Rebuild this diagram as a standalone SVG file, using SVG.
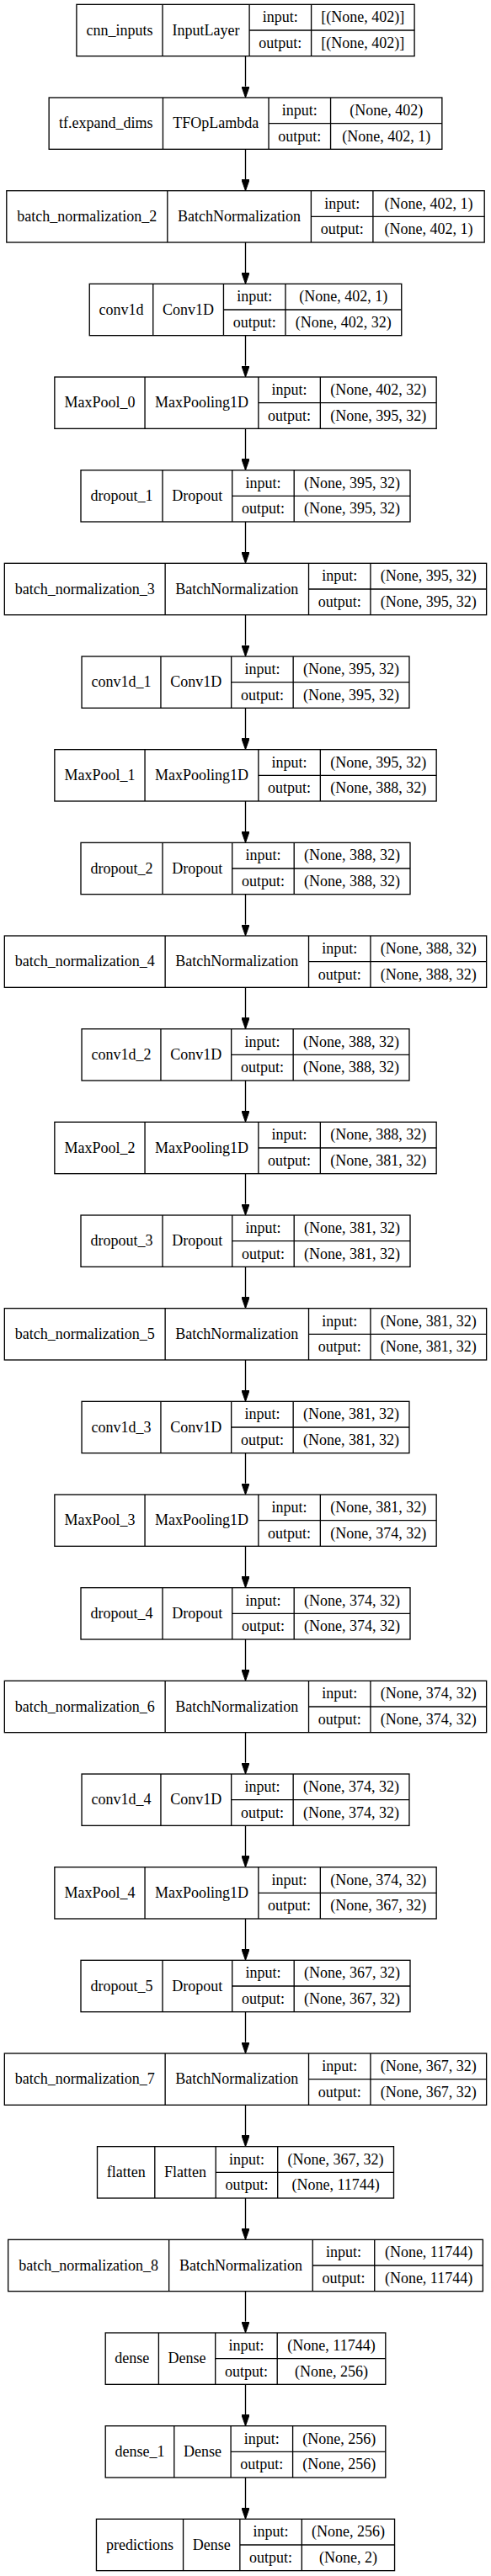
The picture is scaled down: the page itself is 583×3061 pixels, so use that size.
<svg xmlns="http://www.w3.org/2000/svg" xmlns:xlink="http://www.w3.org/1999/xlink" width="583" height="3061" viewBox="0 0 583 3061">
<style>
.box{fill:none;stroke:#000;stroke-width:1.33}
.edge{fill:none;stroke:#000;stroke-width:1.33}
text{font-family:"Liberation Serif","Times New Roman",serif;font-size:18px;text-anchor:middle;fill:#000}
</style>
<defs>
<marker id="arrow" markerUnits="userSpaceOnUse" markerWidth="13.33" markerHeight="9.34" viewBox="0 0 13.33 9.34" refX="0" refY="4.67" orient="auto">
<path d="M0,0L13.33,4.67L0,9.34z" fill="#000" stroke="#000" stroke-width="1"/>
</marker>
<g id="f-maxpool"><rect class="box" width="453.3" height="61.33"/><path class="box" d="M107.2,0V61.33M242,0V61.33M315.5,0V61.33M242,30.67H453.3"/></g>
<g id="f-dropout"><rect class="box" width="391" height="61.33"/><path class="box" d="M97,0V61.33M179.7,0V61.33M253.2,0V61.33M179.7,30.67H391"/></g>
<g id="f-bn32"><rect class="box" width="572.3" height="61.33"/><path class="box" d="M190.8,0V61.33M361.2,0V61.33M434.6,0V61.33M361.2,30.67H572.3"/></g>
<g id="f-conv"><rect class="box" width="388.9" height="61.33"/><path class="box" d="M93.9,0V61.33M177.6,0V61.33M251.1,0V61.33M177.6,30.67H388.9"/></g>
</defs>
<rect width="583" height="3061" fill="#fff"/>

<g id="edges">
<path class="edge" marker-end="url(#arrow)" d="M291.5,66.67V102.67"/>
<path class="edge" marker-end="url(#arrow)" d="M291.5,177.33V213.33"/>
<path class="edge" marker-end="url(#arrow)" d="M291.5,288V324"/>
<path class="edge" marker-end="url(#arrow)" d="M291.5,398.67V434.67"/>
<path class="edge" marker-end="url(#arrow)" d="M291.5,509.33V545.33"/>
<path class="edge" marker-end="url(#arrow)" d="M291.5,620V656"/>
<path class="edge" marker-end="url(#arrow)" d="M291.5,730.67V766.67"/>
<path class="edge" marker-end="url(#arrow)" d="M291.5,841.33V877.33"/>
<path class="edge" marker-end="url(#arrow)" d="M291.5,952V988"/>
<path class="edge" marker-end="url(#arrow)" d="M291.5,1062.67V1098.67"/>
<path class="edge" marker-end="url(#arrow)" d="M291.5,1173.33V1209.33"/>
<path class="edge" marker-end="url(#arrow)" d="M291.5,1284V1320"/>
<path class="edge" marker-end="url(#arrow)" d="M291.5,1394.67V1430.67"/>
<path class="edge" marker-end="url(#arrow)" d="M291.5,1505.33V1541.33"/>
<path class="edge" marker-end="url(#arrow)" d="M291.5,1616V1652"/>
<path class="edge" marker-end="url(#arrow)" d="M291.5,1726.67V1762.67"/>
<path class="edge" marker-end="url(#arrow)" d="M291.5,1837.33V1873.33"/>
<path class="edge" marker-end="url(#arrow)" d="M291.5,1948V1984"/>
<path class="edge" marker-end="url(#arrow)" d="M291.5,2058.67V2094.67"/>
<path class="edge" marker-end="url(#arrow)" d="M291.5,2169.33V2205.33"/>
<path class="edge" marker-end="url(#arrow)" d="M291.5,2280V2316"/>
<path class="edge" marker-end="url(#arrow)" d="M291.5,2390.67V2426.67"/>
<path class="edge" marker-end="url(#arrow)" d="M291.5,2501.33V2537.33"/>
<path class="edge" marker-end="url(#arrow)" d="M291.5,2612V2648"/>
<path class="edge" marker-end="url(#arrow)" d="M291.5,2722.67V2758.67"/>
<path class="edge" marker-end="url(#arrow)" d="M291.5,2833.33V2869.33"/>
<path class="edge" marker-end="url(#arrow)" d="M291.5,2944V2980"/>
</g>

<g id="n-cnn_inputs" transform="translate(90.9,5.33)">
<rect class="box" width="401.2" height="61.33"/><path class="box" d="M102.1,0V61.33M205.2,0V61.33M278.7,0V61.33M205.2,30.67H401.2"/>
<text x="51.05" y="36.3">cnn_inputs</text><text x="153.65" y="36.3">InputLayer</text>
<text x="241.95" y="20.9">input:</text><text x="241.95" y="51.6">output:</text>
<text x="339.95" y="20.9">[(None, 402)]</text><text x="339.95" y="51.6">[(None, 402)]</text>
</g>

<g id="n-tf_expand_dims" transform="translate(58.15,116)">
<rect class="box" width="466.7" height="61.33"/><path class="box" d="M135.3,0V61.33M260.9,0V61.33M334.4,0V61.33M260.9,30.67H466.7"/>
<text x="67.65" y="36.3">tf.expand_dims</text><text x="198.1" y="36.3">TFOpLambda</text>
<text x="297.65" y="20.9">input:</text><text x="297.65" y="51.6">output:</text>
<text x="400.55" y="20.9">(None, 402)</text><text x="400.55" y="51.6">(None, 402, 1)</text>
</g>

<g id="n-batch_normalization_2" transform="translate(7.8,226.67)">
<rect class="box" width="567.4" height="61.33"/><path class="box" d="M191,0V61.33M361.6,0V61.33M435.1,0V61.33M361.6,30.67H567.4"/>
<text x="95.5" y="36.3">batch_normalization_2</text><text x="276.3" y="36.3">BatchNormalization</text>
<text x="398.35" y="20.9">input:</text><text x="398.35" y="51.6">output:</text>
<text x="501.25" y="20.9">(None, 402, 1)</text><text x="501.25" y="51.6">(None, 402, 1)</text>
</g>

<g id="n-conv1d" transform="translate(106.25,337.33)">
<rect class="box" width="370.5" height="61.33"/><path class="box" d="M75.5,0V61.33M159.2,0V61.33M232.7,0V61.33M159.2,30.67H370.5"/>
<text x="37.75" y="36.3">conv1d</text><text x="117.35" y="36.3">Conv1D</text>
<text x="195.95" y="20.9">input:</text><text x="195.95" y="51.6">output:</text>
<text x="301.6" y="20.9">(None, 402, 1)</text><text x="301.6" y="51.6">(None, 402, 32)</text>
</g>

<g id="n-MaxPool_0" transform="translate(64.85,448)">
<use xlink:href="#f-maxpool"/>
<text x="53.6" y="36.3">MaxPool_0</text><text x="174.6" y="36.3">MaxPooling1D</text>
<text x="278.75" y="20.9">input:</text><text x="278.75" y="51.6">output:</text>
<text x="384.4" y="20.9">(None, 402, 32)</text><text x="384.4" y="51.6">(None, 395, 32)</text>
</g>

<g id="n-dropout_1" transform="translate(96,558.67)">
<use xlink:href="#f-dropout"/>
<text x="48.5" y="36.3">dropout_1</text><text x="138.35" y="36.3">Dropout</text>
<text x="216.45" y="20.9">input:</text><text x="216.45" y="51.6">output:</text>
<text x="322.1" y="20.9">(None, 395, 32)</text><text x="322.1" y="51.6">(None, 395, 32)</text>
</g>

<g id="n-batch_normalization_3" transform="translate(5.33,669.33)">
<use xlink:href="#f-bn32"/>
<text x="95.4" y="36.3">batch_normalization_3</text><text x="276" y="36.3">BatchNormalization</text>
<text x="397.9" y="20.9">input:</text><text x="397.9" y="51.6">output:</text>
<text x="503.45" y="20.9">(None, 395, 32)</text><text x="503.45" y="51.6">(None, 395, 32)</text>
</g>

<g id="n-conv1d_1" transform="translate(97.05,780)">
<use xlink:href="#f-conv"/>
<text x="46.95" y="36.3">conv1d_1</text><text x="135.75" y="36.3">Conv1D</text>
<text x="214.35" y="20.9">input:</text><text x="214.35" y="51.6">output:</text>
<text x="320" y="20.9">(None, 395, 32)</text><text x="320" y="51.6">(None, 395, 32)</text>
</g>

<g id="n-MaxPool_1" transform="translate(64.85,890.67)">
<use xlink:href="#f-maxpool"/>
<text x="53.6" y="36.3">MaxPool_1</text><text x="174.6" y="36.3">MaxPooling1D</text>
<text x="278.75" y="20.9">input:</text><text x="278.75" y="51.6">output:</text>
<text x="384.4" y="20.9">(None, 395, 32)</text><text x="384.4" y="51.6">(None, 388, 32)</text>
</g>

<g id="n-dropout_2" transform="translate(96,1001.33)">
<use xlink:href="#f-dropout"/>
<text x="48.5" y="36.3">dropout_2</text><text x="138.35" y="36.3">Dropout</text>
<text x="216.45" y="20.9">input:</text><text x="216.45" y="51.6">output:</text>
<text x="322.1" y="20.9">(None, 388, 32)</text><text x="322.1" y="51.6">(None, 388, 32)</text>
</g>

<g id="n-batch_normalization_4" transform="translate(5.33,1112)">
<use xlink:href="#f-bn32"/>
<text x="95.4" y="36.3">batch_normalization_4</text><text x="276" y="36.3">BatchNormalization</text>
<text x="397.9" y="20.9">input:</text><text x="397.9" y="51.6">output:</text>
<text x="503.45" y="20.9">(None, 388, 32)</text><text x="503.45" y="51.6">(None, 388, 32)</text>
</g>

<g id="n-conv1d_2" transform="translate(97.05,1222.67)">
<use xlink:href="#f-conv"/>
<text x="46.95" y="36.3">conv1d_2</text><text x="135.75" y="36.3">Conv1D</text>
<text x="214.35" y="20.9">input:</text><text x="214.35" y="51.6">output:</text>
<text x="320" y="20.9">(None, 388, 32)</text><text x="320" y="51.6">(None, 388, 32)</text>
</g>

<g id="n-MaxPool_2" transform="translate(64.85,1333.33)">
<use xlink:href="#f-maxpool"/>
<text x="53.6" y="36.3">MaxPool_2</text><text x="174.6" y="36.3">MaxPooling1D</text>
<text x="278.75" y="20.9">input:</text><text x="278.75" y="51.6">output:</text>
<text x="384.4" y="20.9">(None, 388, 32)</text><text x="384.4" y="51.6">(None, 381, 32)</text>
</g>

<g id="n-dropout_3" transform="translate(96,1444)">
<use xlink:href="#f-dropout"/>
<text x="48.5" y="36.3">dropout_3</text><text x="138.35" y="36.3">Dropout</text>
<text x="216.45" y="20.9">input:</text><text x="216.45" y="51.6">output:</text>
<text x="322.1" y="20.9">(None, 381, 32)</text><text x="322.1" y="51.6">(None, 381, 32)</text>
</g>

<g id="n-batch_normalization_5" transform="translate(5.33,1554.67)">
<use xlink:href="#f-bn32"/>
<text x="95.4" y="36.3">batch_normalization_5</text><text x="276" y="36.3">BatchNormalization</text>
<text x="397.9" y="20.9">input:</text><text x="397.9" y="51.6">output:</text>
<text x="503.45" y="20.9">(None, 381, 32)</text><text x="503.45" y="51.6">(None, 381, 32)</text>
</g>

<g id="n-conv1d_3" transform="translate(97.05,1665.33)">
<use xlink:href="#f-conv"/>
<text x="46.95" y="36.3">conv1d_3</text><text x="135.75" y="36.3">Conv1D</text>
<text x="214.35" y="20.9">input:</text><text x="214.35" y="51.6">output:</text>
<text x="320" y="20.9">(None, 381, 32)</text><text x="320" y="51.6">(None, 381, 32)</text>
</g>

<g id="n-MaxPool_3" transform="translate(64.85,1776)">
<use xlink:href="#f-maxpool"/>
<text x="53.6" y="36.3">MaxPool_3</text><text x="174.6" y="36.3">MaxPooling1D</text>
<text x="278.75" y="20.9">input:</text><text x="278.75" y="51.6">output:</text>
<text x="384.4" y="20.9">(None, 381, 32)</text><text x="384.4" y="51.6">(None, 374, 32)</text>
</g>

<g id="n-dropout_4" transform="translate(96,1886.67)">
<use xlink:href="#f-dropout"/>
<text x="48.5" y="36.3">dropout_4</text><text x="138.35" y="36.3">Dropout</text>
<text x="216.45" y="20.9">input:</text><text x="216.45" y="51.6">output:</text>
<text x="322.1" y="20.9">(None, 374, 32)</text><text x="322.1" y="51.6">(None, 374, 32)</text>
</g>

<g id="n-batch_normalization_6" transform="translate(5.33,1997.33)">
<use xlink:href="#f-bn32"/>
<text x="95.4" y="36.3">batch_normalization_6</text><text x="276" y="36.3">BatchNormalization</text>
<text x="397.9" y="20.9">input:</text><text x="397.9" y="51.6">output:</text>
<text x="503.45" y="20.9">(None, 374, 32)</text><text x="503.45" y="51.6">(None, 374, 32)</text>
</g>

<g id="n-conv1d_4" transform="translate(97.05,2108)">
<use xlink:href="#f-conv"/>
<text x="46.95" y="36.3">conv1d_4</text><text x="135.75" y="36.3">Conv1D</text>
<text x="214.35" y="20.9">input:</text><text x="214.35" y="51.6">output:</text>
<text x="320" y="20.9">(None, 374, 32)</text><text x="320" y="51.6">(None, 374, 32)</text>
</g>

<g id="n-MaxPool_4" transform="translate(64.85,2218.67)">
<use xlink:href="#f-maxpool"/>
<text x="53.6" y="36.3">MaxPool_4</text><text x="174.6" y="36.3">MaxPooling1D</text>
<text x="278.75" y="20.9">input:</text><text x="278.75" y="51.6">output:</text>
<text x="384.4" y="20.9">(None, 374, 32)</text><text x="384.4" y="51.6">(None, 367, 32)</text>
</g>

<g id="n-dropout_5" transform="translate(96,2329.33)">
<use xlink:href="#f-dropout"/>
<text x="48.5" y="36.3">dropout_5</text><text x="138.35" y="36.3">Dropout</text>
<text x="216.45" y="20.9">input:</text><text x="216.45" y="51.6">output:</text>
<text x="322.1" y="20.9">(None, 367, 32)</text><text x="322.1" y="51.6">(None, 367, 32)</text>
</g>

<g id="n-batch_normalization_7" transform="translate(5.33,2440)">
<use xlink:href="#f-bn32"/>
<text x="95.4" y="36.3">batch_normalization_7</text><text x="276" y="36.3">BatchNormalization</text>
<text x="397.9" y="20.9">input:</text><text x="397.9" y="51.6">output:</text>
<text x="503.45" y="20.9">(None, 367, 32)</text><text x="503.45" y="51.6">(None, 367, 32)</text>
</g>

<g id="n-flatten" transform="translate(115.5,2550.67)">
<rect class="box" width="352" height="61.33"/><path class="box" d="M68.3,0V61.33M140.7,0V61.33M214.2,0V61.33M140.7,30.67H352"/>
<text x="34.15" y="36.3">flatten</text><text x="104.5" y="36.3">Flatten</text>
<text x="177.45" y="20.9">input:</text><text x="177.45" y="51.6">output:</text>
<text x="283.1" y="20.9">(None, 367, 32)</text><text x="283.1" y="51.6">(None, 11744)</text>
</g>

<g id="n-batch_normalization_8" transform="translate(9.65,2661.33)">
<rect class="box" width="563.7" height="61.33"/><path class="box" d="M191,0V61.33M361.6,0V61.33M435.1,0V61.33M361.6,30.67H563.7"/>
<text x="95.5" y="36.3">batch_normalization_8</text><text x="276.3" y="36.3">BatchNormalization</text>
<text x="398.35" y="20.9">input:</text><text x="398.35" y="51.6">output:</text>
<text x="499.4" y="20.9">(None, 11744)</text><text x="499.4" y="51.6">(None, 11744)</text>
</g>

<g id="n-dense" transform="translate(125.2,2772)">
<rect class="box" width="332.6" height="61.33"/><path class="box" d="M63.2,0V61.33M130.5,0V61.33M204,0V61.33M130.5,30.67H332.6"/>
<text x="31.6" y="36.3">dense</text><text x="96.85" y="36.3">Dense</text>
<text x="167.25" y="20.9">input:</text><text x="167.25" y="51.6">output:</text>
<text x="268.3" y="20.9">(None, 11744)</text><text x="268.3" y="51.6">(None, 256)</text>
</g>

<g id="n-dense_1" transform="translate(125.2,2882.67)">
<rect class="box" width="332.6" height="61.33"/><path class="box" d="M81.6,0V61.33M148.9,0V61.33M222.4,0V61.33M148.9,30.67H332.6"/>
<text x="40.8" y="36.3">dense_1</text><text x="115.25" y="36.3">Dense</text>
<text x="185.65" y="20.9">input:</text><text x="185.65" y="51.6">output:</text>
<text x="277.5" y="20.9">(None, 256)</text><text x="277.5" y="51.6">(None, 256)</text>
</g>

<g id="n-predictions" transform="translate(114.45,2993.33)">
<rect class="box" width="354.1" height="61.33"/><path class="box" d="M103.1,0V61.33M170.4,0V61.33M243.9,0V61.33M170.4,30.67H354.1"/>
<text x="51.55" y="36.3">predictions</text><text x="136.75" y="36.3">Dense</text>
<text x="207.15" y="20.9">input:</text><text x="207.15" y="51.6">output:</text>
<text x="299" y="20.9">(None, 256)</text><text x="299" y="51.6">(None, 2)</text>
</g>
</svg>
